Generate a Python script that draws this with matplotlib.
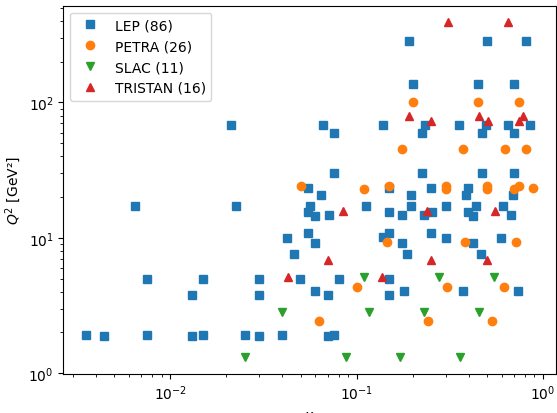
import numpy as np
import matplotlib
matplotlib.use("Agg")
from matplotlib import pyplot as plt

# LEP
lep_x = [0.00352, 0.00442, 0.0065, 0.0075, 0.0075, 0.0131, 0.0131, 0.015, 0.015,
         0.0211, 0.0224, 0.0251, 0.0299, 0.0299, 0.0299, 0.0399, 0.0425, 0.046, 0.0498,
         0.0547, 0.0547, 0.0547, 0.0564, 0.06, 0.06, 0.0601, 0.0646, 0.0659, 0.070,
         0.070, 0.0714, 0.0753, 0.0753, 0.0753, 0.080,
         0.1125, 0.138, 0.138, 0.150, 0.150, 0.150, 0.150, 0.150, 0.1755, 0.1755,
         0.180, 0.1866, 0.19, 0.196, 0.196, 0.2,
         0.2248, 0.2248, 0.231, 0.234, 0.251, 0.2525, 0.251, 0.301, 0.301,
         0.356, 0.373, 0.386, 0.398, 0.398, 0.42, 0.4236, 0.4367, 0.449, 0.4644,
         0.473, 0.473, 0.494, 0.5,
         0.607, 0.598, 0.65, 0.677, 0.694, 0.70, 0.70, 0.70, 0.738, 0.809, 0.85]
lep_q2 = [1.91, 1.88, 17.3, 5.0, 1.91, 3.78, 1.88, 5.0, 1.91,
          67.9, 17.3, 1.91, 5.0, 3.78, 1.88, 1.91, 10.0, 7.6, 5.0,
          23.4, 15.5, 10.9, 17.3, 14.6, 9.15, 4.03, 20.8, 67.9, 3.78,
          1.89, 14.8, 59.7, 30.3, 1.92, 5.0,
          17.3, 67.9, 10.1, 23.4, 15.5, 10.9, 5.0, 3.78, 14.8, 9.15,
          4.03, 7.6, 286, 20.8, 17.3, 136,
          59.7, 30.3, 14.8, 67.9, 23.4, 15.5, 10.9, 17.3, 10.0,
          67.9, 4.03, 20.8, 23.4, 15.5, 14.6, 9.15, 17.3, 136, 7.6,
          59.7, 30.3, 67.9, 286,
          17.3, 10.0, 67.9, 14.8, 20.8, 136, 59.7, 30.3, 4.03, 286, 67.9]

# PETRA
petra_x = [0.05, 0.0632, 0.1, 0.11, 0.145, 0.15, 0.1755, 0.2, 0.2404, 0.3, 0.3,
           0.3057, 0.373, 0.383, 0.449, 0.5, 0.5, 0.532, 0.619, 0.626, 0.70,
           0.716, 0.74, 0.74, 0.81, 0.889]
petra_q2 = [24.2, 2.41, 4.36, 23.1, 9.3, 24.2, 45.6, 101, 2.41, 24.2, 23.1,
            4.36, 45.6, 9.3, 101, 24.2, 23.1, 2.41, 4.36, 45.6, 23.1,
            9.3, 24.2, 101, 45.6, 23.4]

# SLAC
slac_x = [0.0251, 0.0399, 0.0879, 0.110, 0.117, 0.171, 0.229, 0.277, 0.36, 0.451, 0.547]
slac_q2 = [1.31, 2.85, 1.31, 5.1, 2.85, 1.31, 2.85, 5.1, 1.31, 2.85, 5.1]

# TRISTAN
tristan_x = [0.043, 0.070, 0.085, 0.137, 0.19, 0.239, 0.251, 0.251, 0.31, 0.455,
             0.5, 0.505, 0.554, 0.65, 0.74, 0.784]
tristan_q2 = [5.1, 6.87, 15.9, 5.1, 79.5, 15.9, 6.87, 73.2, 391, 79.5,
              6.87, 73.2, 15.9, 391, 73.2, 79.5]

labels = ["LEP (86)", "PETRA (26)", "SLAC (11)", "TRISTAN (16)"]

fig = plt.figure(figsize=(5.57, 4.14), dpi=100)
ax = fig.add_subplot(111)
fig.subplots_adjust(left=0.1137, right=0.998, top=0.984, bottom=0.0942)

ax.plot(lep_x, lep_q2, "s", color="C0", ls="none", label=labels[0])
ax.plot(petra_x, petra_q2, "o", color="C1", ls="none", label=labels[1])
ax.plot(slac_x, slac_q2, "v", color="C2", ls="none", label=labels[2])
ax.plot(tristan_x, tristan_q2, "^", color="C3", ls="none", label=labels[3])

ax.set_xscale("log")
ax.set_yscale("log")
ax.set_xlabel("$x$")
ax.set_ylabel("$Q^2$ [GeV²]")
ax.legend(loc="upper left")

fig.savefig("out.png", dpi=100)
